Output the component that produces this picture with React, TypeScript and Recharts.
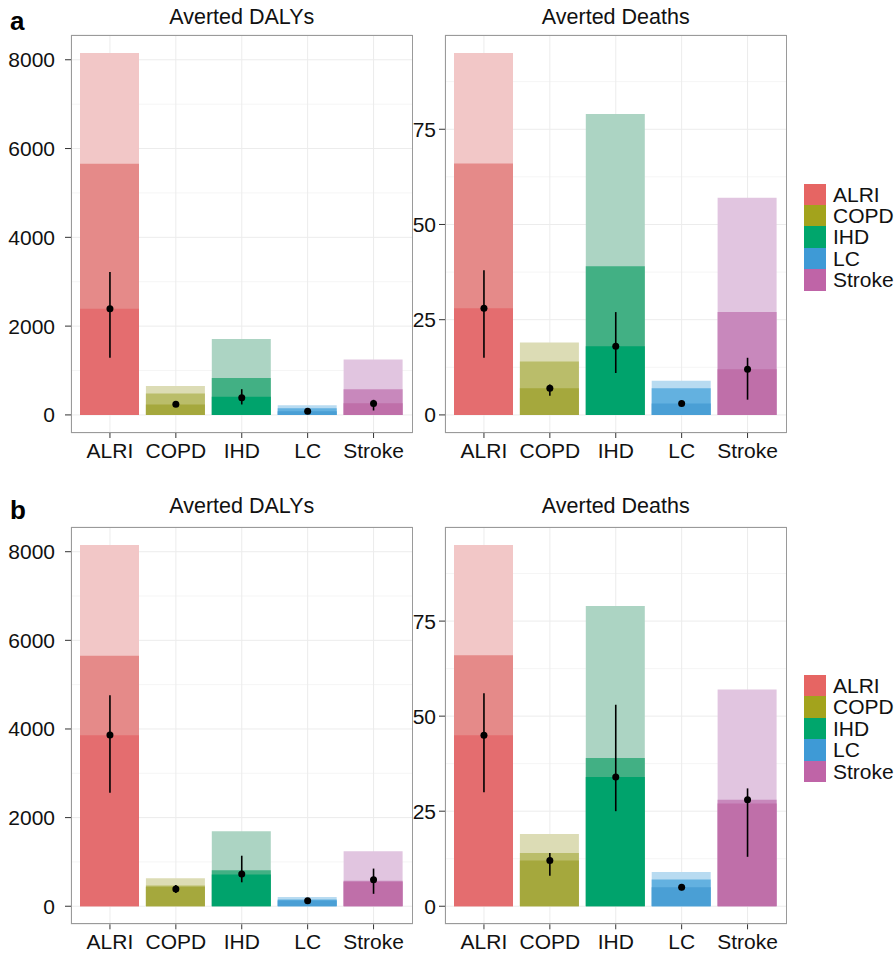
import React from 'react';
import {
  ComposedChart,
  Bar,
  Line,
  XAxis,
  YAxis,
  CartesianGrid,
  ErrorBar,
  Cell
} from 'recharts';

// Categories (causes)
const categories = ['ALRI', 'COPD', 'IHD', 'LC', 'Stroke'];

// Panel a, Averted DALYs
const dalysAHigh = [8150, 650, 1710, 215, 1250];
const dalysAMid = [5660, 485, 830, 150, 580];
const dalysALow = [2390, 235, 410, 80, 260];
const dalysAPoint = [2390, 240, 385, 80, 255];
const dalysALo = [1290, 210, 235, 65, 100];
const dalysAHi = [3220, 270, 580, 95, 340];

// Panel a, Averted Deaths
const deathsAHigh = [95, 19, 79, 9, 57];
const deathsAMid = [66, 14, 39, 7, 27];
const deathsALow = [28, 7, 18, 3, 12];
const deathsAPoint = [28, 7, 18, 3, 12];
const deathsALo = [15, 5, 11, 2.3, 4];
const deathsAHi = [38, 8, 27, 3.6, 15];

// Panel b, Averted DALYs
const dalysBHigh = [8150, 630, 1690, 210, 1240];
const dalysBMid = [5650, 470, 810, 150, 575];
const dalysBLow = [3860, 440, 715, 130, 550];
const dalysBPoint = [3865, 390, 730, 125, 600];
const dalysBLo = [2560, 300, 540, 110, 280];
const dalysBHi = [4760, 480, 1140, 140, 850];

// Panel b, Averted Deaths
const deathsBHigh = [95, 19, 79, 9, 57];
const deathsBMid = [66, 14, 39, 7, 28];
const deathsBLow = [45, 12, 34, 5, 27];
const deathsBPoint = [45, 12, 34, 5, 28];
const deathsBLo = [30, 8, 25, 4.2, 13];
const deathsBHi = [56, 14, 53, 5.8, 31];

const dalysTicks = [0, 2000, 4000, 6000, 8000];
const dalysMinor = [1000, 3000, 5000, 7000];
const deathsTicks = [0, 25, 50, 75];
const deathsMinor = [12.5, 37.5, 62.5, 87.5];

// colours as they show up after overlapping (light = outer bar, dark = inner bar)
const lightColors = ['#f2c7c7', '#dcdcb5', '#acd4c3', '#b8dbf1', '#e1c5e0'];
const midColors = ['#e58a89', '#babd6a', '#42b084', '#63b1e0', '#c888bc'];
const darkColors = ['#e46d6f', '#a5a83d', '#00a36c', '#4a9fd5', '#bf6fa9'];
const keyColors = ['#e66563', '#a3a31c', '#00a66c', '#3e9ad6', '#bf64a7'];

const FONT = '"Liberation Sans", Arial, Helvetica, sans-serif';
const BAR = 59;
const PLOT_W = 341.5;
const Y_W = 71;
const TOP_M = 35;
const TICK_FS = 21;

interface PanelProps {
  x0: number;
  y0: number;
  plotH: number;
  high: number[];
  mid: number[];
  low: number[];
  point: number[];
  lo: number[];
  hi: number[];
  ticks: number[];
  minor: number[];
  tickMargin: number;
}

function Panel({ x0, y0, plotH, high, mid, low, point, lo, hi, ticks, minor, tickMargin }: PanelProps) {
  const rows = categories.map((name, i) => ({
    name,
    high: high[i],
    mid: mid[i],
    low: low[i],
    point: point[i],
    err: [point[i] - lo[i], hi[i] - point[i]]
  }));

  // ggplot style 5% expansion
  const maxVal = Math.max(...high);
  const domain = [-maxVal * 0.05, maxVal * 1.05];
  const tickStyle = { fontSize: TICK_FS, fill: '#111', fontFamily: FONT };

  return (
    <>
      <div style={{ position: 'absolute', left: x0 - Y_W, top: y0 - TOP_M }}>
        <ComposedChart
          width={Y_W + PLOT_W + 8}
          height={TOP_M + plotH + 37}
          data={rows}
          margin={{ top: TOP_M, right: 8, bottom: 7, left: 0 }}
          barGap={-BAR}
          barSize={BAR}
        >
          {/* minor grid from a hidden axis */}
          <CartesianGrid yAxisId="minor" vertical={false} stroke="#f5f5f5" strokeWidth={1} />
          <CartesianGrid stroke="#ececec" strokeWidth={1} />
          <XAxis
            dataKey="name"
            type="category"
            interval={0}
            padding={{ left: 6, right: 6 }}
            axisLine={false}
            tickLine={{ stroke: '#333' }}
            tickSize={5}
            tickMargin={5}
            height={30}
            tick={tickStyle}
          />
          <YAxis
            type="number"
            domain={domain}
            ticks={ticks}
            allowDataOverflow
            width={Y_W}
            axisLine={false}
            tickLine={{ stroke: '#333' }}
            tickSize={6}
            tickMargin={tickMargin}
            tick={tickStyle}
          />
          <YAxis yAxisId="minor" type="number" domain={domain} ticks={minor} allowDataOverflow hide />
          <Bar dataKey="high" isAnimationActive={false}>
            {rows.map((r, i) => <Cell key={`h-${i}`} fill={lightColors[i]} />)}
          </Bar>
          <Bar dataKey="mid" isAnimationActive={false}>
            {rows.map((r, i) => <Cell key={`m-${i}`} fill={midColors[i]} />)}
          </Bar>
          <Bar dataKey="low" isAnimationActive={false}>
            {rows.map((r, i) => <Cell key={`l-${i}`} fill={darkColors[i]} />)}
          </Bar>
          <Line
            dataKey="point"
            stroke="none"
            dot={{ r: 3.5, fill: '#000', stroke: '#000', strokeWidth: 0 }}
            activeDot={false}
            isAnimationActive={false}
          >
            <ErrorBar dataKey="err" width={0} stroke="#000" strokeWidth={1.6} direction="y" />
          </Line>
        </ComposedChart>
      </div>
      {/* panel border */}
      <div
        style={{
          position: 'absolute',
          left: x0,
          top: y0,
          width: PLOT_W,
          height: plotH,
          border: '1px solid #9a9a9a',
          boxSizing: 'border-box',
          pointerEvents: 'none'
        }}
      />
    </>
  );
}

function Title({ x0, baseline, text }: { x0: number; baseline: number; text: string }) {
  return (
    <div
      style={{
        position: 'absolute',
        left: x0,
        width: PLOT_W,
        top: baseline - 18.2,
        fontSize: 21.5,
        lineHeight: '21.5px',
        textAlign: 'center',
        color: '#111'
      }}
    >
      {text}
    </div>
  );
}

function Legend({ top }: { top: number }) {
  return (
    <div style={{ position: 'absolute', left: 804, top }}>
      {categories.map((c, i) => (
        <div key={c} style={{ display: 'flex', alignItems: 'center', height: 21.4 }}>
          <div style={{ width: 22, height: 21.4, background: keyColors[i] }} />
          <div style={{ marginLeft: 7, fontSize: TICK_FS, color: '#111', lineHeight: '21.4px' }}>{c}</div>
        </div>
      ))}
    </div>
  );
}

export default function App() {
  return (
    <div
      style={{
        position: 'absolute',
        left: 0,
        top: 0,
        width: 896,
        height: 955,
        background: '#fff',
        fontFamily: FONT,
        overflow: 'hidden'
      }}
    >
      <div style={{ position: 'absolute', left: 10, top: 8, fontSize: 26, fontWeight: 'bold', lineHeight: '26px' }}>a</div>
      <div style={{ position: 'absolute', left: 10, top: 497, fontSize: 26, fontWeight: 'bold', lineHeight: '26px' }}>b</div>

      <Title x0={71} baseline={25} text="Averted DALYs" />
      <Title x0={445} baseline={25} text="Averted Deaths" />
      <Title x0={71} baseline={514} text="Averted DALYs" />
      <Title x0={445} baseline={514} text="Averted Deaths" />

      <Panel
        x0={71}
        y0={35}
        plotH={398}
        high={dalysAHigh}
        mid={dalysAMid}
        low={dalysALow}
        point={dalysAPoint}
        lo={dalysALo}
        hi={dalysAHi}
        ticks={dalysTicks}
        minor={dalysMinor}
        tickMargin={10}
      />
      <Panel
        x0={445}
        y0={35}
        plotH={398}
        high={deathsAHigh}
        mid={deathsAMid}
        low={deathsALow}
        point={deathsAPoint}
        lo={deathsALo}
        hi={deathsAHi}
        ticks={deathsTicks}
        minor={deathsMinor}
        tickMargin={3}
      />
      <Panel
        x0={71}
        y0={526.7}
        plotH={397.3}
        high={dalysBHigh}
        mid={dalysBMid}
        low={dalysBLow}
        point={dalysBPoint}
        lo={dalysBLo}
        hi={dalysBHi}
        ticks={dalysTicks}
        minor={dalysMinor}
        tickMargin={10}
      />
      <Panel
        x0={445}
        y0={526.7}
        plotH={397.3}
        high={deathsBHigh}
        mid={deathsBMid}
        low={deathsBLow}
        point={deathsBPoint}
        lo={deathsBLo}
        hi={deathsBHi}
        ticks={deathsTicks}
        minor={deathsMinor}
        tickMargin={3}
      />

      <Legend top={183.7} />
      <Legend top={675} />
    </div>
  );
}
